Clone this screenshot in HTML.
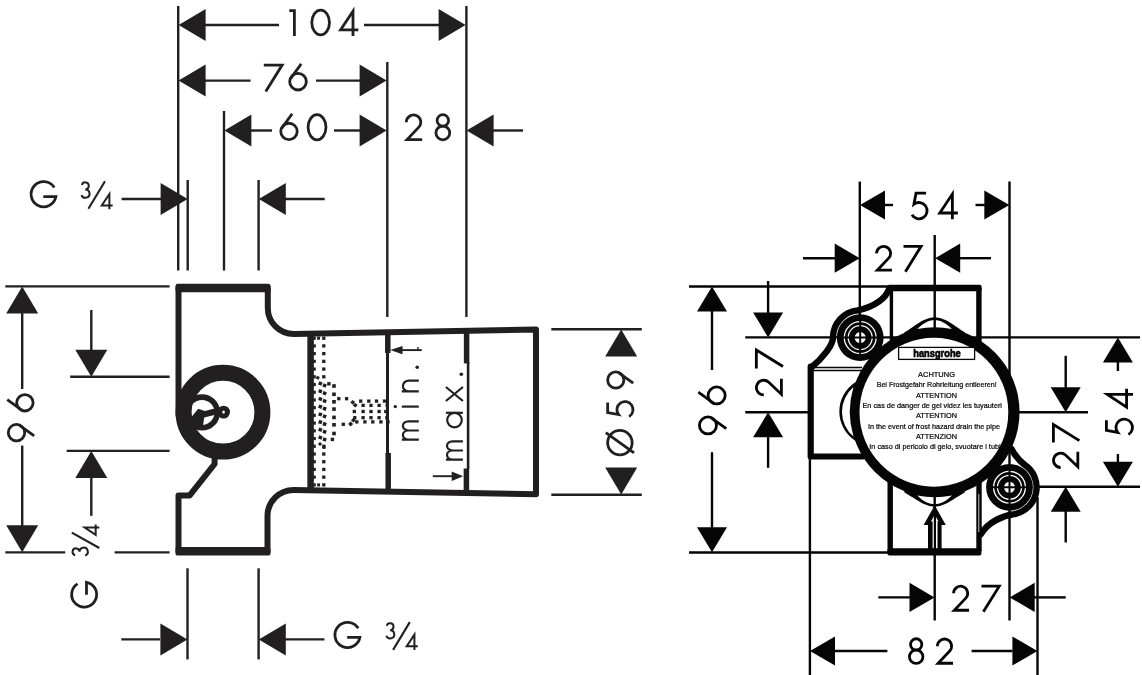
<!DOCTYPE html>
<html><head><meta charset="utf-8"><title>Dimension drawing</title>
<style>html,body{margin:0;padding:0;background:#fff;}body{width:1142px;height:675px;overflow:hidden;font-family:"Liberation Sans",sans-serif;}svg{display:block;will-change:transform;}</style></head>
<body>
<svg width="1142" height="675" viewBox="0 0 1142 675">
<rect width="1142" height="675" fill="#fff"/>
<line x1="178.2" y1="6" x2="178.2" y2="270.5" stroke="#221f20" stroke-width="2.4" stroke-linecap="butt"/>
<line x1="187.7" y1="180" x2="187.7" y2="270.5" stroke="#221f20" stroke-width="2.4" stroke-linecap="butt"/>
<line x1="224" y1="111" x2="224" y2="270.5" stroke="#221f20" stroke-width="2.4" stroke-linecap="butt"/>
<line x1="258.6" y1="180" x2="258.6" y2="270.5" stroke="#221f20" stroke-width="2.4" stroke-linecap="butt"/>
<line x1="387.3" y1="62" x2="387.3" y2="317" stroke="#221f20" stroke-width="2.4" stroke-linecap="butt"/>
<line x1="466.4" y1="6" x2="466.4" y2="317" stroke="#221f20" stroke-width="2.4" stroke-linecap="butt"/>
<polygon points="178.6,25.0 205.6,9.0 205.6,41.0" fill="#221f20"/>
<line x1="205" y1="25" x2="279" y2="25" stroke="#221f20" stroke-width="2.4" stroke-linecap="butt"/>
<line x1="364" y1="25" x2="439" y2="25" stroke="#221f20" stroke-width="2.4" stroke-linecap="butt"/>
<polygon points="465.6,25.0 438.6,9.0 438.6,41.0" fill="#221f20"/>
<g transform="translate(289.00 9.00) rotate(0) scale(1.0)" fill="none" stroke="#221f20" stroke-width="2.80" stroke-linecap="butt" stroke-linejoin="miter"><path d="M0.3 1.6 H5.4 V27"/></g>
<g transform="translate(310.40 8.70) rotate(0) scale(1.0222222222222221)" fill="none" stroke="#221f20" stroke-width="2.74" stroke-linecap="butt" stroke-linejoin="miter"><ellipse cx="10" cy="13.5" rx="8.65" ry="12.15"/></g>
<g transform="translate(338.40 9.00) rotate(0) scale(1.0)" fill="none" stroke="#221f20" stroke-width="2.80" stroke-linecap="butt" stroke-linejoin="miter"><path d="M14.6 27 V2.2 L2.2 20.8 H20"/></g>
<polygon points="178.6,80.6 205.6,64.6 205.6,96.6" fill="#221f20"/>
<line x1="205" y1="80.6" x2="250.5" y2="80.6" stroke="#221f20" stroke-width="2.4" stroke-linecap="butt"/>
<line x1="316" y1="80.6" x2="360" y2="80.6" stroke="#221f20" stroke-width="2.4" stroke-linecap="butt"/>
<polygon points="386.6,80.6 359.6,64.6 359.6,96.6" fill="#221f20"/>
<g transform="translate(263.80 63.60) rotate(0) scale(1.0259259259259257)" fill="none" stroke="#221f20" stroke-width="2.73" stroke-linecap="butt" stroke-linejoin="miter"><path d="M0 1.4 H17.9 L1.9 27.2"/></g>
<g transform="translate(288.20 63.50) rotate(0) scale(1.0333333333333334)" fill="none" stroke="#221f20" stroke-width="2.71" stroke-linecap="butt" stroke-linejoin="miter"><circle cx="9.5" cy="17.6" r="8.05"/><path d="M12.6 0.3 L2.3 14.6"/></g>
<polygon points="224.4,130.5 251.4,114.5 251.4,146.5" fill="#221f20"/>
<line x1="251" y1="130.5" x2="272" y2="130.5" stroke="#221f20" stroke-width="2.4" stroke-linecap="butt"/>
<line x1="334" y1="130.5" x2="360" y2="130.5" stroke="#221f20" stroke-width="2.4" stroke-linecap="butt"/>
<polygon points="386.6,130.5 359.6,114.5 359.6,146.5" fill="#221f20"/>
<g transform="translate(279.30 113.50) rotate(0) scale(1.0185185185185186)" fill="none" stroke="#221f20" stroke-width="2.75" stroke-linecap="butt" stroke-linejoin="miter"><circle cx="9.5" cy="17.6" r="8.05"/><path d="M12.6 0.3 L2.3 14.6"/></g>
<g transform="translate(306.70 113.30) rotate(0) scale(1.033333333333333)" fill="none" stroke="#221f20" stroke-width="2.71" stroke-linecap="butt" stroke-linejoin="miter"><ellipse cx="10" cy="13.5" rx="8.65" ry="12.15"/></g>
<g transform="translate(404.40 113.50) rotate(0) scale(1.0185185185185186)" fill="none" stroke="#221f20" stroke-width="2.75" stroke-linecap="butt" stroke-linejoin="miter"><path d="M1.9 8.6 A7.1 7.1 0 1 1 14.2 13.4 L2.6 25.65 H17.5"/></g>
<g transform="translate(433.80 113.30) rotate(0) scale(1.033333333333333)" fill="none" stroke="#221f20" stroke-width="2.71" stroke-linecap="butt" stroke-linejoin="miter"><circle cx="8.75" cy="6.9" r="5.55"/><circle cx="8.75" cy="19.0" r="6.65"/></g>
<polygon points="466.6,130.5 493.6,114.5 493.6,146.5" fill="#221f20"/>
<line x1="493" y1="130.5" x2="523" y2="130.5" stroke="#221f20" stroke-width="2.4" stroke-linecap="butt"/>
<g transform="translate(29.20 181.30) rotate(0) scale(1.044444444444444)" fill="none" stroke="#221f20" stroke-width="2.68" stroke-linecap="butt" stroke-linejoin="miter"><path d="M24.0 6.0 A12.0 12.0 0 1 0 25.6 14.6 H13.5"/></g>
<g transform="translate(80.60 181.50) rotate(0) scale(0.63)" fill="none" stroke="#221f20" stroke-width="3.17" stroke-linecap="butt" stroke-linejoin="miter"><path d="M2 5.5 A5.6 5.6 0 1 1 7.5 12.6 A6.6 6.6 0 1 1 1.4 21.5"/></g>
<g transform="translate(100.40 192.60) rotate(0) scale(0.615)" fill="none" stroke="#221f20" stroke-width="3.25" stroke-linecap="butt" stroke-linejoin="miter"><path d="M14.6 27 V2.2 L2.2 20.8 H20"/></g>
<line x1="88.4" y1="208.8" x2="105.0" y2="181.3" stroke="#221f20" stroke-width="2.1" stroke-linecap="butt"/>
<line x1="121.6" y1="199" x2="161" y2="199" stroke="#221f20" stroke-width="2.4" stroke-linecap="butt"/>
<polygon points="187.6,199.0 160.6,183.0 160.6,215.0" fill="#221f20"/>
<polygon points="258.8,199.0 285.8,183.0 285.8,215.0" fill="#221f20"/>
<line x1="285" y1="199" x2="324.7" y2="199" stroke="#221f20" stroke-width="2.4" stroke-linecap="butt"/>
<line x1="5.3" y1="286.4" x2="169.6" y2="286.4" stroke="#221f20" stroke-width="2.4" stroke-linecap="butt"/>
<line x1="5.3" y1="552.4" x2="65.2" y2="552.4" stroke="#221f20" stroke-width="2.4" stroke-linecap="butt"/>
<line x1="114.6" y1="552.4" x2="169.6" y2="552.4" stroke="#221f20" stroke-width="2.4" stroke-linecap="butt"/>
<line x1="22.2" y1="312" x2="22.2" y2="389" stroke="#221f20" stroke-width="2.4" stroke-linecap="butt"/>
<line x1="22.2" y1="445.6" x2="22.2" y2="527" stroke="#221f20" stroke-width="2.4" stroke-linecap="butt"/>
<polygon points="22.2,286.6 6.2,313.6 38.2,313.6" fill="#221f20"/>
<polygon points="22.2,552.2 6.2,525.2 38.2,525.2" fill="#221f20"/>
<g transform="translate(6.90 442.40) rotate(-90) scale(1.0222222222222224)" fill="none" stroke="#221f20" stroke-width="2.74" stroke-linecap="butt" stroke-linejoin="miter"><circle cx="9.5" cy="9.4" r="8.05"/><path d="M6.4 26.7 L16.7 12.4"/></g>
<g transform="translate(6.90 412.50) rotate(-90) scale(1.0222222222222224)" fill="none" stroke="#221f20" stroke-width="2.74" stroke-linecap="butt" stroke-linejoin="miter"><circle cx="9.5" cy="17.6" r="8.05"/><path d="M12.6 0.3 L2.3 14.6"/></g>
<line x1="91.3" y1="310" x2="91.3" y2="351" stroke="#221f20" stroke-width="2.4" stroke-linecap="butt"/>
<polygon points="91.3,376.7 75.3,349.7 107.3,349.7" fill="#221f20"/>
<line x1="70.2" y1="376.7" x2="169.6" y2="376.7" stroke="#221f20" stroke-width="2.4" stroke-linecap="butt"/>
<line x1="66.7" y1="450.9" x2="169.6" y2="450.9" stroke="#221f20" stroke-width="2.4" stroke-linecap="butt"/>
<polygon points="91.3,451.0 75.3,478.0 107.3,478.0" fill="#221f20"/>
<line x1="91.3" y1="477" x2="91.3" y2="515.8" stroke="#221f20" stroke-width="2.4" stroke-linecap="butt"/>
<g transform="translate(71.70 556.50) rotate(-90) scale(0.625)" fill="none" stroke="#221f20" stroke-width="3.20" stroke-linecap="butt" stroke-linejoin="miter"><path d="M2 5.5 A5.6 5.6 0 1 1 7.5 12.6 A6.6 6.6 0 1 1 1.4 21.5"/></g>
<g transform="translate(83.40 536.20) rotate(-90) scale(0.59)" fill="none" stroke="#221f20" stroke-width="3.39" stroke-linecap="butt" stroke-linejoin="miter"><path d="M14.6 27 V2.2 L2.2 20.8 H20"/></g>
<line x1="99.3" y1="548.0" x2="71.8" y2="532.6" stroke="#221f20" stroke-width="2.1" stroke-linecap="butt"/>
<g transform="translate(71.30 608.90) rotate(-90) scale(1.040740740740741)" fill="none" stroke="#221f20" stroke-width="2.69" stroke-linecap="butt" stroke-linejoin="miter"><path d="M24.0 6.0 A12.0 12.0 0 1 0 25.6 14.6 H13.5"/></g>
<line x1="187.5" y1="568.3" x2="187.5" y2="659.4" stroke="#221f20" stroke-width="2.4" stroke-linecap="butt"/>
<line x1="258.6" y1="568.3" x2="258.6" y2="659.4" stroke="#221f20" stroke-width="2.4" stroke-linecap="butt"/>
<line x1="121.3" y1="639.4" x2="160" y2="639.4" stroke="#221f20" stroke-width="2.4" stroke-linecap="butt"/>
<polygon points="187.4,639.4 160.4,623.4 160.4,655.4" fill="#221f20"/>
<polygon points="258.8,639.4 285.8,623.4 285.8,655.4" fill="#221f20"/>
<line x1="285" y1="639.4" x2="324.4" y2="639.4" stroke="#221f20" stroke-width="2.4" stroke-linecap="butt"/>
<g transform="translate(333.00 622.00) rotate(0) scale(1.051851851851851)" fill="none" stroke="#221f20" stroke-width="2.66" stroke-linecap="butt" stroke-linejoin="miter"><path d="M24.0 6.0 A12.0 12.0 0 1 0 25.6 14.6 H13.5"/></g>
<g transform="translate(385.40 622.30) rotate(0) scale(0.625)" fill="none" stroke="#221f20" stroke-width="3.20" stroke-linecap="butt" stroke-linejoin="miter"><path d="M2 5.5 A5.6 5.6 0 1 1 7.5 12.6 A6.6 6.6 0 1 1 1.4 21.5"/></g>
<g transform="translate(405.30 633.20) rotate(0) scale(0.625)" fill="none" stroke="#221f20" stroke-width="3.20" stroke-linecap="butt" stroke-linejoin="miter"><path d="M14.6 27 V2.2 L2.2 20.8 H20"/></g>
<line x1="393.1" y1="649.9" x2="409.8" y2="622.1" stroke="#221f20" stroke-width="2.1" stroke-linecap="butt"/>
<line x1="551.3" y1="329.3" x2="641.8" y2="329.3" stroke="#221f20" stroke-width="2.4" stroke-linecap="butt"/>
<line x1="551.3" y1="494.7" x2="641.8" y2="494.7" stroke="#221f20" stroke-width="2.4" stroke-linecap="butt"/>
<polygon points="621.2,329.5 605.2,356.5 637.2,356.5" fill="#221f20"/>
<polygon points="621.2,494.5 605.2,467.5 637.2,467.5" fill="#221f20"/>
<g transform="translate(606.30 456.30) rotate(-90) scale(1.007407407407409)" fill="none" stroke="#221f20" stroke-width="2.78" stroke-linecap="butt" stroke-linejoin="miter"><circle cx="13.5" cy="13.5" r="12.15"/><path d="M3.5 27.5 L23.5 -0.5"/></g>
<g transform="translate(606.30 418.20) rotate(-90) scale(1.007407407407409)" fill="none" stroke="#221f20" stroke-width="2.78" stroke-linecap="butt" stroke-linejoin="miter"><path d="M15.5 1.35 H5.6 L3.6 12.2 A8 8 0 1 1 1.6 22.6"/></g>
<g transform="translate(606.30 389.60) rotate(-90) scale(1.007407407407409)" fill="none" stroke="#221f20" stroke-width="2.78" stroke-linecap="butt" stroke-linejoin="miter"><circle cx="9.5" cy="9.4" r="8.05"/><path d="M6.4 26.7 L16.7 12.4"/></g>
<path d="M178.5 288 H267.8 V308 A26 26 0 0 0 293.8 334 L536 329.4 V494.3 L293.5 489.9 A26 26 0 0 0 267.5 516 V551.4 H178.5 V495.6 H189.5 L214.6 464 V455 M178.5 415 V288" fill="none" stroke="#221f20" stroke-width="6" stroke-linejoin="round" stroke-linecap="round"/>
<rect x="175.5" y="283.8" width="95" height="8.4" rx="2.2" fill="#221f20"/>
<rect x="175.5" y="547" width="95" height="8.6" rx="2.2" fill="#221f20"/>
<circle cx="223" cy="412.2" r="39.4" fill="none" stroke="#221f20" stroke-width="16"/>
<circle cx="202" cy="412.4" r="15.3" fill="none" stroke="#221f20" stroke-width="5.6"/>
<polygon points="198.2,408.7 204.9,411.0 216.5,407.9 216.5,414.4 204.2,417.4 203,426 190,428 189,420" fill="#221f20"/>
<circle cx="223.6" cy="412.1" r="6.4" fill="#221f20"/><ellipse cx="223.6" cy="412.1" rx="1.3" ry="1.7" fill="#fff"/>
<line x1="310.6" y1="333" x2="310.6" y2="490.5" stroke="#221f20" stroke-width="6.5" stroke-linecap="butt"/>
<line x1="387.8" y1="331.5" x2="387.8" y2="353" stroke="#221f20" stroke-width="5.5" stroke-linecap="butt"/>
<line x1="387.5" y1="352" x2="387.5" y2="454" stroke="#221f20" stroke-width="3.0" stroke-linecap="butt"/>
<line x1="388.2" y1="453" x2="388.2" y2="492.5" stroke="#221f20" stroke-width="5.5" stroke-linecap="butt"/>
<line x1="466.6" y1="330" x2="466.6" y2="363.4" stroke="#221f20" stroke-width="5.5" stroke-linecap="butt"/>
<line x1="468.1" y1="362" x2="468.1" y2="469" stroke="#221f20" stroke-width="2.6" stroke-linecap="butt"/>
<line x1="466.4" y1="468.5" x2="466.4" y2="493.5" stroke="#221f20" stroke-width="5.5" stroke-linecap="butt"/>
<rect x="322.15" y="336.55" width="3.3" height="3.3" fill="#221f20"/>
<rect x="322.15" y="344.27" width="3.3" height="3.3" fill="#221f20"/>
<rect x="322.15" y="351.99" width="3.3" height="3.3" fill="#221f20"/>
<rect x="322.15" y="359.71" width="3.3" height="3.3" fill="#221f20"/>
<rect x="322.15" y="367.43" width="3.3" height="3.3" fill="#221f20"/>
<rect x="322.15" y="375.15" width="3.3" height="3.3" fill="#221f20"/>
<rect x="322.15" y="444.63" width="3.3" height="3.3" fill="#221f20"/>
<rect x="322.15" y="452.35" width="3.3" height="3.3" fill="#221f20"/>
<rect x="322.15" y="460.07" width="3.3" height="3.3" fill="#221f20"/>
<rect x="322.15" y="467.79" width="3.3" height="3.3" fill="#221f20"/>
<rect x="322.15" y="475.51" width="3.3" height="3.3" fill="#221f20"/>
<rect x="322.15" y="483.23" width="3.3" height="3.3" fill="#221f20"/>
<rect x="313.2" y="336.60" width="2.6" height="3.2" fill="#221f20"/>
<rect x="313.2" y="344.32" width="2.6" height="3.2" fill="#221f20"/>
<rect x="313.2" y="352.04" width="2.6" height="3.2" fill="#221f20"/>
<rect x="313.2" y="359.76" width="2.6" height="3.2" fill="#221f20"/>
<rect x="313.2" y="367.48" width="2.6" height="3.2" fill="#221f20"/>
<rect x="313.2" y="375.20" width="2.6" height="3.2" fill="#221f20"/>
<rect x="313.2" y="382.92" width="2.6" height="3.2" fill="#221f20"/>
<rect x="313.2" y="390.64" width="2.6" height="3.2" fill="#221f20"/>
<rect x="313.2" y="398.36" width="2.6" height="3.2" fill="#221f20"/>
<rect x="313.2" y="406.08" width="2.6" height="3.2" fill="#221f20"/>
<rect x="313.2" y="413.80" width="2.6" height="3.2" fill="#221f20"/>
<rect x="313.2" y="421.52" width="2.6" height="3.2" fill="#221f20"/>
<rect x="313.2" y="429.24" width="2.6" height="3.2" fill="#221f20"/>
<rect x="313.2" y="436.96" width="2.6" height="3.2" fill="#221f20"/>
<rect x="313.2" y="444.68" width="2.6" height="3.2" fill="#221f20"/>
<rect x="313.2" y="452.40" width="2.6" height="3.2" fill="#221f20"/>
<rect x="313.2" y="460.12" width="2.6" height="3.2" fill="#221f20"/>
<rect x="313.2" y="467.84" width="2.6" height="3.2" fill="#221f20"/>
<rect x="313.2" y="475.56" width="2.6" height="3.2" fill="#221f20"/>
<rect x="313.2" y="483.28" width="2.6" height="3.2" fill="#221f20"/>
<rect x="317.10" y="336.70" width="3.0" height="3.0" fill="#221f20"/>
<rect x="317.10" y="483.40" width="3.0" height="3.0" fill="#221f20"/>
<rect x="318.55" y="381.75" width="3.5" height="3.5" fill="#221f20" transform="rotate(20 320.30 383.50)"/>
<rect x="322.85" y="383.75" width="3.5" height="3.5" fill="#221f20" transform="rotate(20 324.60 385.50)"/>
<rect x="318.55" y="389.47" width="3.5" height="3.5" fill="#221f20" transform="rotate(20 320.30 391.22)"/>
<rect x="322.85" y="391.47" width="3.5" height="3.5" fill="#221f20" transform="rotate(20 324.60 393.22)"/>
<rect x="318.55" y="397.19" width="3.5" height="3.5" fill="#221f20" transform="rotate(20 320.30 398.94)"/>
<rect x="322.85" y="399.19" width="3.5" height="3.5" fill="#221f20" transform="rotate(20 324.60 400.94)"/>
<rect x="318.55" y="404.91" width="3.5" height="3.5" fill="#221f20" transform="rotate(20 320.30 406.66)"/>
<rect x="322.85" y="406.91" width="3.5" height="3.5" fill="#221f20" transform="rotate(20 324.60 408.66)"/>
<rect x="318.55" y="412.63" width="3.5" height="3.5" fill="#221f20" transform="rotate(20 320.30 414.38)"/>
<rect x="322.85" y="414.63" width="3.5" height="3.5" fill="#221f20" transform="rotate(20 324.60 416.38)"/>
<rect x="318.55" y="420.35" width="3.5" height="3.5" fill="#221f20" transform="rotate(20 320.30 422.10)"/>
<rect x="322.85" y="422.35" width="3.5" height="3.5" fill="#221f20" transform="rotate(20 324.60 424.10)"/>
<rect x="318.55" y="428.07" width="3.5" height="3.5" fill="#221f20" transform="rotate(20 320.30 429.82)"/>
<rect x="322.85" y="430.07" width="3.5" height="3.5" fill="#221f20" transform="rotate(20 324.60 431.82)"/>
<rect x="318.55" y="435.79" width="3.5" height="3.5" fill="#221f20" transform="rotate(20 320.30 437.54)"/>
<rect x="322.85" y="437.79" width="3.5" height="3.5" fill="#221f20" transform="rotate(20 324.60 439.54)"/>
<rect x="316.30" y="376.30" width="3.0" height="3.0" fill="#221f20" transform="rotate(25 317.80 377.80)"/>
<rect x="318.50" y="442.50" width="3.0" height="3.0" fill="#221f20" transform="rotate(40 320.00 444.00)"/>
<rect x="322.40" y="445.70" width="3.2" height="3.2" fill="#221f20"/>
<rect x="332.20" y="384.20" width="3.6" height="3.6" fill="#221f20"/>
<rect x="332.20" y="392.50" width="3.6" height="3.6" fill="#221f20"/>
<rect x="332.20" y="400.00" width="3.6" height="3.6" fill="#221f20"/>
<rect x="332.20" y="407.30" width="3.6" height="3.6" fill="#221f20"/>
<rect x="332.20" y="415.60" width="3.6" height="3.6" fill="#221f20"/>
<rect x="332.20" y="423.00" width="3.6" height="3.6" fill="#221f20"/>
<rect x="332.20" y="431.70" width="3.6" height="3.6" fill="#221f20"/>
<rect x="327.20" y="382.10" width="3.4" height="3.4" fill="#221f20"/>
<rect x="330.70" y="437.70" width="3.4" height="3.4" fill="#221f20"/>
<rect x="337.15" y="397.05" width="3.3" height="3.3" fill="#221f20"/>
<rect x="344.95" y="397.05" width="3.3" height="3.3" fill="#221f20"/>
<rect x="341.65" y="422.65" width="3.3" height="3.3" fill="#221f20"/>
<rect x="348.80" y="422.20" width="3.6" height="3.6" fill="#221f20" transform="rotate(45 350.60 424.00)"/>
<rect x="351.00" y="400.60" width="3.4" height="3.4" fill="#221f20" transform="rotate(40 352.70 402.30)"/>
<rect x="353.50" y="403.50" width="3.4" height="3.4" fill="#221f20" transform="rotate(40 355.20 405.20)"/>
<rect x="359.05" y="399.45" width="3.3" height="3.3" fill="#221f20"/>
<rect x="367.15" y="399.45" width="3.3" height="3.3" fill="#221f20"/>
<rect x="374.85" y="399.45" width="3.3" height="3.3" fill="#221f20"/>
<rect x="382.85" y="399.45" width="3.3" height="3.3" fill="#221f20"/>
<rect x="361.45" y="403.75" width="3.3" height="3.3" fill="#221f20"/>
<rect x="369.35" y="403.75" width="3.3" height="3.3" fill="#221f20"/>
<rect x="377.45" y="403.75" width="3.3" height="3.3" fill="#221f20"/>
<rect x="385.55" y="403.75" width="3.3" height="3.3" fill="#221f20"/>
<rect x="352.65" y="409.85" width="3.3" height="3.3" fill="#221f20"/>
<rect x="361.45" y="409.85" width="3.3" height="3.3" fill="#221f20"/>
<rect x="369.35" y="409.85" width="3.3" height="3.3" fill="#221f20"/>
<rect x="377.45" y="409.85" width="3.3" height="3.3" fill="#221f20"/>
<rect x="384.15" y="409.85" width="3.3" height="3.3" fill="#221f20"/>
<rect x="353.15" y="416.05" width="3.3" height="3.3" fill="#221f20"/>
<rect x="361.45" y="416.05" width="3.3" height="3.3" fill="#221f20"/>
<rect x="369.35" y="416.05" width="3.3" height="3.3" fill="#221f20"/>
<rect x="377.45" y="416.05" width="3.3" height="3.3" fill="#221f20"/>
<rect x="385.25" y="416.05" width="3.3" height="3.3" fill="#221f20"/>
<rect x="355.15" y="420.25" width="3.3" height="3.3" fill="#221f20"/>
<rect x="363.25" y="420.25" width="3.3" height="3.3" fill="#221f20"/>
<rect x="371.15" y="420.25" width="3.3" height="3.3" fill="#221f20"/>
<rect x="379.25" y="420.25" width="3.3" height="3.3" fill="#221f20"/>
<rect x="386.35" y="420.25" width="3.3" height="3.3" fill="#221f20"/>
<rect x="351.70" y="418.50" width="3.4" height="3.4" fill="#221f20" transform="rotate(40 353.40 420.20)"/>
<polygon points="390.2,350.1 402.5,346 402.5,354.2" fill="#221f20"/>
<line x1="402" y1="350.1" x2="421.8" y2="350.1" stroke="#221f20" stroke-width="1.9" stroke-linecap="butt"/>
<line x1="418" y1="347" x2="418" y2="350.5" stroke="#221f20" stroke-width="1.4" stroke-linecap="butt"/>
<polygon points="463.2,476.2 451.7,471.4 451.7,481" fill="#221f20"/>
<line x1="432.8" y1="476.2" x2="452" y2="476.2" stroke="#221f20" stroke-width="1.9" stroke-linecap="butt"/>
<g transform="translate(401.8 440.8) rotate(-90)" fill="none" stroke="#221f20" stroke-width="2.2"><path d="M1.1 17 V0 M1.1 6.5 A4.6 5.4 0 0 1 10.3 6.5 V17 M10.3 6.5 A4.6 5.4 0 0 1 19.5 6.5 V17"/></g>
<g transform="translate(401.8 407.7) rotate(-90)" fill="none" stroke="#221f20" stroke-width="2.2"><path d="M1.1 17 V0"/><circle cx="1.1" cy="-6.5" r="1.7" fill="#221f20" stroke="none"/></g>
<g transform="translate(401.8 392.5) rotate(-90)" fill="none" stroke="#221f20" stroke-width="2.2"><path d="M1.1 17 V0 M1.1 7 A5.4 5.9 0 0 1 11.9 7 V17"/></g>
<g transform="translate(401.8 369) rotate(-90)" fill="none" stroke="#221f20" stroke-width="2.2"><circle cx="1.7" cy="15.4" r="1.8" fill="#221f20" stroke="none"/></g>
<g transform="translate(445.9 460.8) rotate(-90)" fill="none" stroke="#221f20" stroke-width="2.2"><path d="M1.1 17 V0 M1.1 6.5 A4.6 5.4 0 0 1 10.3 6.5 V17 M10.3 6.5 A4.6 5.4 0 0 1 19.5 6.5 V17"/></g>
<g transform="translate(445.9 428.4) rotate(-90)" fill="none" stroke="#221f20" stroke-width="2.2"><circle cx="8.3" cy="8.6" r="7.3"/><path d="M15.6 0 V17"/></g>
<g transform="translate(445.9 401.8) rotate(-90)" fill="none" stroke="#221f20" stroke-width="2.2"><path d="M0.8 0 L14.8 17 M14.8 0 L0.8 17"/></g>
<g transform="translate(445.9 376) rotate(-90)" fill="none" stroke="#221f20" stroke-width="2.2"><circle cx="1.7" cy="15.4" r="1.8" fill="#221f20" stroke="none"/></g>
<line x1="859.8" y1="181.6" x2="859.8" y2="337" stroke="#050505" stroke-width="2.4" stroke-linecap="butt"/>
<line x1="1009.5" y1="181.6" x2="1009.5" y2="620.5" stroke="#050505" stroke-width="2.4" stroke-linecap="butt"/>
<line x1="934.7" y1="235" x2="934.7" y2="620.5" stroke="#050505" stroke-width="2.4" stroke-linecap="butt"/>
<line x1="689" y1="286.5" x2="889" y2="286.5" stroke="#050505" stroke-width="2.4" stroke-linecap="butt"/>
<line x1="689" y1="552.5" x2="889" y2="552.5" stroke="#050505" stroke-width="2.4" stroke-linecap="butt"/>
<line x1="745.3" y1="337.4" x2="1140" y2="337.4" stroke="#050505" stroke-width="2.4" stroke-linecap="butt"/>
<line x1="745.3" y1="412.3" x2="810" y2="412.3" stroke="#050505" stroke-width="2.4" stroke-linecap="butt"/>
<line x1="1018" y1="412.3" x2="1088" y2="412.3" stroke="#050505" stroke-width="2.4" stroke-linecap="butt"/>
<line x1="1036" y1="486.8" x2="1140" y2="486.8" stroke="#050505" stroke-width="2.4" stroke-linecap="butt"/>
<line x1="809.9" y1="456" x2="809.9" y2="675" stroke="#050505" stroke-width="2.4" stroke-linecap="butt"/>
<line x1="1037.5" y1="497" x2="1037.5" y2="675" stroke="#050505" stroke-width="2.4" stroke-linecap="butt"/>
<polygon points="860.0,205.0 885.0,190.4 885.0,219.6" fill="#050505"/>
<line x1="884" y1="205" x2="893" y2="205" stroke="#050505" stroke-width="2.4" stroke-linecap="butt"/>
<line x1="975.5" y1="205" x2="985" y2="205" stroke="#050505" stroke-width="2.4" stroke-linecap="butt"/>
<polygon points="1009.3,205.0 984.3,190.4 984.3,219.6" fill="#050505"/>
<g transform="translate(910.30 191.80) rotate(0) scale(1.0185185185185186)" fill="none" stroke="#050505" stroke-width="2.75" stroke-linecap="butt" stroke-linejoin="miter"><path d="M15.5 1.35 H5.6 L3.6 12.2 A8 8 0 1 1 1.6 22.6"/></g>
<g transform="translate(937.50 191.80) rotate(0) scale(1.0185185185185186)" fill="none" stroke="#050505" stroke-width="2.75" stroke-linecap="butt" stroke-linejoin="miter"><path d="M14.6 27 V2.2 L2.2 20.8 H20"/></g>
<line x1="803" y1="258.2" x2="836" y2="258.2" stroke="#050505" stroke-width="2.4" stroke-linecap="butt"/>
<polygon points="859.7,258.2 834.7,243.6 834.7,272.8" fill="#050505"/>
<g transform="translate(874.70 244.90) rotate(0) scale(0.9851851851851849)" fill="none" stroke="#050505" stroke-width="2.84" stroke-linecap="butt" stroke-linejoin="miter"><path d="M1.9 8.6 A7.1 7.1 0 1 1 14.2 13.4 L2.6 25.65 H17.5"/></g>
<g transform="translate(903.50 244.90) rotate(0) scale(0.9851851851851849)" fill="none" stroke="#050505" stroke-width="2.84" stroke-linecap="butt" stroke-linejoin="miter"><path d="M0 1.4 H17.9 L1.9 27.2"/></g>
<polygon points="935.2,258.2 960.2,243.6 960.2,272.8" fill="#050505"/>
<line x1="959" y1="258.2" x2="991" y2="258.2" stroke="#050505" stroke-width="2.4" stroke-linecap="butt"/>
<line x1="712" y1="311" x2="712" y2="370" stroke="#050505" stroke-width="2.4" stroke-linecap="butt"/>
<line x1="712" y1="452.2" x2="712" y2="528" stroke="#050505" stroke-width="2.4" stroke-linecap="butt"/>
<polygon points="712.0,286.6 697.0,311.6 727.0,311.6" fill="#050505"/>
<polygon points="712.0,552.3 697.0,527.3 727.0,527.3" fill="#050505"/>
<g transform="translate(698.00 435.50) rotate(-90) scale(1.05925925925926)" fill="none" stroke="#050505" stroke-width="2.64" stroke-linecap="butt" stroke-linejoin="miter"><circle cx="9.5" cy="9.4" r="8.05"/><path d="M6.4 26.7 L16.7 12.4"/></g>
<g transform="translate(698.00 405.50) rotate(-90) scale(1.05925925925926)" fill="none" stroke="#050505" stroke-width="2.64" stroke-linecap="butt" stroke-linejoin="miter"><circle cx="9.5" cy="17.6" r="8.05"/><path d="M12.6 0.3 L2.3 14.6"/></g>
<line x1="768.1" y1="281" x2="768.1" y2="313.5" stroke="#050505" stroke-width="2.4" stroke-linecap="butt"/>
<polygon points="768.1,337.4 753.1,312.4 783.1,312.4" fill="#050505"/>
<polygon points="768.1,412.3 753.1,437.3 783.1,437.3" fill="#050505"/>
<line x1="768.1" y1="436" x2="768.1" y2="467.8" stroke="#050505" stroke-width="2.4" stroke-linecap="butt"/>
<g transform="translate(754.90 396.90) rotate(-90) scale(1.0333333333333325)" fill="none" stroke="#050505" stroke-width="2.71" stroke-linecap="butt" stroke-linejoin="miter"><path d="M1.9 8.6 A7.1 7.1 0 1 1 14.2 13.4 L2.6 25.65 H17.5"/></g>
<g transform="translate(754.90 368.50) rotate(-90) scale(1.0333333333333325)" fill="none" stroke="#050505" stroke-width="2.71" stroke-linecap="butt" stroke-linejoin="miter"><path d="M0 1.4 H17.9 L1.9 27.2"/></g>
<polygon points="1117.9,337.4 1102.9,362.4 1132.9,362.4" fill="#050505"/>
<line x1="1117.9" y1="361" x2="1117.9" y2="371" stroke="#050505" stroke-width="2.4" stroke-linecap="butt"/>
<line x1="1117.9" y1="454" x2="1117.9" y2="463" stroke="#050505" stroke-width="2.4" stroke-linecap="butt"/>
<polygon points="1117.9,486.8 1102.9,461.8 1132.9,461.8" fill="#050505"/>
<g transform="translate(1105.00 436.20) rotate(-90) scale(1.037037037037037)" fill="none" stroke="#050505" stroke-width="2.70" stroke-linecap="butt" stroke-linejoin="miter"><path d="M15.5 1.35 H5.6 L3.6 12.2 A8 8 0 1 1 1.6 22.6"/></g>
<g transform="translate(1105.00 409.50) rotate(-90) scale(1.037037037037037)" fill="none" stroke="#050505" stroke-width="2.70" stroke-linecap="butt" stroke-linejoin="miter"><path d="M14.6 27 V2.2 L2.2 20.8 H20"/></g>
<line x1="1065.7" y1="355.8" x2="1065.7" y2="388" stroke="#050505" stroke-width="2.4" stroke-linecap="butt"/>
<polygon points="1065.7,412.3 1050.7,387.3 1080.7,387.3" fill="#050505"/>
<polygon points="1065.7,486.8 1050.7,511.8 1080.7,511.8" fill="#050505"/>
<line x1="1065.7" y1="511" x2="1065.7" y2="542.5" stroke="#050505" stroke-width="2.4" stroke-linecap="butt"/>
<g transform="translate(1052.00 469.40) rotate(-90) scale(1.007407407407409)" fill="none" stroke="#050505" stroke-width="2.78" stroke-linecap="butt" stroke-linejoin="miter"><path d="M1.9 8.6 A7.1 7.1 0 1 1 14.2 13.4 L2.6 25.65 H17.5"/></g>
<g transform="translate(1052.00 442.50) rotate(-90) scale(1.007407407407409)" fill="none" stroke="#050505" stroke-width="2.78" stroke-linecap="butt" stroke-linejoin="miter"><path d="M0 1.4 H17.9 L1.9 27.2"/></g>
<line x1="878.3" y1="597.4" x2="911" y2="597.4" stroke="#050505" stroke-width="2.4" stroke-linecap="butt"/>
<polygon points="934.5,597.4 909.5,582.8 909.5,612.0" fill="#050505"/>
<g transform="translate(951.70 584.80) rotate(0) scale(0.9925925925925951)" fill="none" stroke="#050505" stroke-width="2.82" stroke-linecap="butt" stroke-linejoin="miter"><path d="M1.9 8.6 A7.1 7.1 0 1 1 14.2 13.4 L2.6 25.65 H17.5"/></g>
<g transform="translate(981.50 584.80) rotate(0) scale(0.9925925925925951)" fill="none" stroke="#050505" stroke-width="2.82" stroke-linecap="butt" stroke-linejoin="miter"><path d="M0 1.4 H17.9 L1.9 27.2"/></g>
<polygon points="1009.7,597.4 1034.7,582.8 1034.7,612.0" fill="#050505"/>
<line x1="1034" y1="597.4" x2="1065.7" y2="597.4" stroke="#050505" stroke-width="2.4" stroke-linecap="butt"/>
<polygon points="810.0,651.0 835.0,636.4 835.0,665.6" fill="#050505"/>
<line x1="834" y1="651" x2="887.4" y2="651" stroke="#050505" stroke-width="2.4" stroke-linecap="butt"/>
<line x1="971.6" y1="651" x2="1012.5" y2="651" stroke="#050505" stroke-width="2.4" stroke-linecap="butt"/>
<polygon points="1037.4,651.0 1012.4,636.4 1012.4,665.6" fill="#050505"/>
<g transform="translate(907.30 637.40) rotate(0) scale(1.014814814814814)" fill="none" stroke="#050505" stroke-width="2.76" stroke-linecap="butt" stroke-linejoin="miter"><circle cx="8.75" cy="6.9" r="5.55"/><circle cx="8.75" cy="19.0" r="6.65"/></g>
<g transform="translate(935.50 637.60) rotate(0) scale(1.0)" fill="none" stroke="#050505" stroke-width="2.80" stroke-linecap="butt" stroke-linejoin="miter"><path d="M1.9 8.6 A7.1 7.1 0 1 1 14.2 13.4 L2.6 25.65 H17.5"/></g>
<path d="M978.9 288 V345" fill="none" stroke="#050505" stroke-width="5.4"/>
<rect x="887.6" y="284.8" width="94" height="6.4" rx="1.8" fill="#050505"/>
<line x1="891.4" y1="288" x2="891.4" y2="345" stroke="#050505" stroke-width="3.4" stroke-linecap="butt"/>
<path d="M890.2 480 V551 M979 480 V551" fill="none" stroke="#050505" stroke-width="5.4"/>
<rect x="887.4" y="548.2" width="94" height="7.2" rx="2" fill="#050505"/>
<path d="M810.7 366.5 V456.5 H862" fill="none" stroke="#050505" stroke-width="6.2" stroke-linejoin="round" stroke-linecap="round"/>
<line x1="812" y1="367.5" x2="862" y2="367.5" stroke="#050505" stroke-width="1.5" stroke-linecap="butt"/>
<line x1="812" y1="370.4" x2="862" y2="370.4" stroke="#050505" stroke-width="1.5" stroke-linecap="butt"/>
<path d="M889.3 288.6 C885 300 872 307 857.8 310.4 A27.2 27.2 0 0 0 833 337.5 C833 345 823 358 811.5 367.3" fill="none" stroke="#050505" stroke-width="6.4" stroke-linecap="round"/>
<path d="M1011.5 449 Q1016 458 1024.5 464.7 A27.2 27.2 0 0 1 1014.2 514.1 C1003 515.5 988 522 980.5 534.5" fill="none" stroke="#050505" stroke-width="6.4" stroke-linecap="round"/>
<path d="M905 333.5 C915 328 924 318.6 934.7 318.6 C945.4 318.6 954.4 328 964.4 333.5 Z" fill="#050505" stroke="#050505" stroke-width="2.6"/>
<path d="M904.8 491 C915 496.5 924 505.4 934.6 505.4 C945.2 505.4 954.2 496.5 964.4 491 Z" fill="#050505" stroke="#050505" stroke-width="2.6"/>
<path d="M855 384 A33.5 33.5 0 0 0 855 439 Z" fill="#050505" stroke="#050505" stroke-width="2.6"/>
<circle cx="934.85" cy="412.1" r="84.7" fill="#050505"/><circle cx="933.9" cy="412.25" r="74.4" fill="#fff"/>
<path d="M917.3 329 A84.8 84.8 0 0 1 951.9 329 C947 324 941 319.9 934.6 319.9 C928.2 319.9 922.2 324 917.3 329 Z" fill="#fff"/>
<path d="M917.3 495.4 A84.8 84.8 0 0 0 951.9 495.4 C947 500.5 941 504.1 934.6 504.1 C928.2 504.1 922.2 500.5 917.3 495.4 Z" fill="#fff"/>
<path d="M853.5 387.1 A85 85 0 0 0 853.5 436.5 A32.2 32.2 0 0 1 853.5 387.1 Z" fill="#fff"/>
<circle cx="860.2" cy="337.6" r="23.4" fill="#050505"/>
<circle cx="860.2" cy="337.6" r="15.9" fill="none" stroke="#fff" stroke-width="1.3"/>
<circle cx="860.2" cy="337.6" r="12" fill="none" stroke="#fff" stroke-width="1.3"/>
<circle cx="860.2" cy="337.6" r="5.5" fill="#fff"/>
<line x1="843.2" y1="337.6" x2="877.2" y2="337.6" stroke="#050505" stroke-width="2.0" stroke-linecap="butt"/>
<line x1="860.2" y1="320.6" x2="860.2" y2="354.6" stroke="#050505" stroke-width="2.0" stroke-linecap="butt"/>
<circle cx="1009.5" cy="487.3" r="23.4" fill="#050505"/>
<circle cx="1009.5" cy="487.3" r="15.9" fill="none" stroke="#fff" stroke-width="1.3"/>
<circle cx="1009.5" cy="487.3" r="12" fill="none" stroke="#fff" stroke-width="1.3"/>
<circle cx="1009.5" cy="487.3" r="5.5" fill="#fff"/>
<line x1="992.5" y1="487.3" x2="1026.5" y2="487.3" stroke="#050505" stroke-width="2.0" stroke-linecap="butt"/>
<line x1="1009.5" y1="470.3" x2="1009.5" y2="504.3" stroke="#050505" stroke-width="2.0" stroke-linecap="butt"/>
<line x1="934.7" y1="317" x2="934.7" y2="329" stroke="#050505" stroke-width="2.4" stroke-linecap="butt"/>
<line x1="934.7" y1="496" x2="934.7" y2="552" stroke="#050505" stroke-width="2.4" stroke-linecap="butt"/>
<line x1="978.8" y1="494" x2="978.8" y2="532" stroke="#fff" stroke-width="0.8" stroke-linecap="butt"/>
<polygon points="934.7,505.3 945.8,524.9 941.6,524.9 941.6,549 928,549 928,524.9 923.6,524.9" fill="#050505"/>
<polygon points="934.7,514.6 938.4,521.4 931,521.4" fill="#fff"/>
<rect x="932.6" y="521.2" width="4.9" height="27" fill="#fff"/>
<line x1="934.9" y1="514" x2="934.9" y2="549" stroke="#050505" stroke-width="2.2" stroke-linecap="butt"/>
<g opacity="0.999">
<rect x="898.6" y="347.4" width="76" height="12" fill="#fff" stroke="#050505" stroke-width="1.3"/>
<text x="937" y="356.9" font-family="Liberation Sans, sans-serif" font-weight="bold" font-size="11.5" text-anchor="middle" textLength="47.5" lengthAdjust="spacingAndGlyphs" fill="#050505" stroke="#050505" stroke-width="0.7">hansgrohe</text>
<text x="918" y="376.6" font-family="Liberation Sans, sans-serif" font-size="7.9" textLength="37.0" lengthAdjust="spacingAndGlyphs" fill="#050505" stroke="#050505" stroke-width="0.22">ACHTUNG</text>
<text x="876.7" y="387.3" font-family="Liberation Sans, sans-serif" font-size="7.9" textLength="120.0" lengthAdjust="spacingAndGlyphs" fill="#050505" stroke="#050505" stroke-width="0.22">Bei Frostgefahr Rohrleitung entleeren!</text>
<text x="916" y="397.7" font-family="Liberation Sans, sans-serif" font-size="7.9" textLength="41.0" lengthAdjust="spacingAndGlyphs" fill="#050505" stroke="#050505" stroke-width="0.22">ATTENTION</text>
<text x="862.5" y="408.2" font-family="Liberation Sans, sans-serif" font-size="7.9" textLength="139.5" lengthAdjust="spacingAndGlyphs" fill="#050505" stroke="#050505" stroke-width="0.22">En cas de danger de gel videz les tuyauteri</text>
<text x="916" y="418.2" font-family="Liberation Sans, sans-serif" font-size="7.9" textLength="41.0" lengthAdjust="spacingAndGlyphs" fill="#050505" stroke="#050505" stroke-width="0.22">ATTENTION</text>
<text x="867.9" y="428.6" font-family="Liberation Sans, sans-serif" font-size="7.9" textLength="132.1" lengthAdjust="spacingAndGlyphs" fill="#050505" stroke="#050505" stroke-width="0.22">In the event of frost hazard drain the pipe</text>
<text x="916" y="438.5" font-family="Liberation Sans, sans-serif" font-size="7.9" textLength="41.0" lengthAdjust="spacingAndGlyphs" fill="#050505" stroke="#050505" stroke-width="0.22">ATTENZION</text>
<text x="869.3" y="448.8" font-family="Liberation Sans, sans-serif" font-size="7.9" textLength="131.3" lengthAdjust="spacingAndGlyphs" fill="#050505" stroke="#050505" stroke-width="0.22">In caso di pericolo di gelo, svuotare i tubi</text>
</g>
</svg>
</body></html>
